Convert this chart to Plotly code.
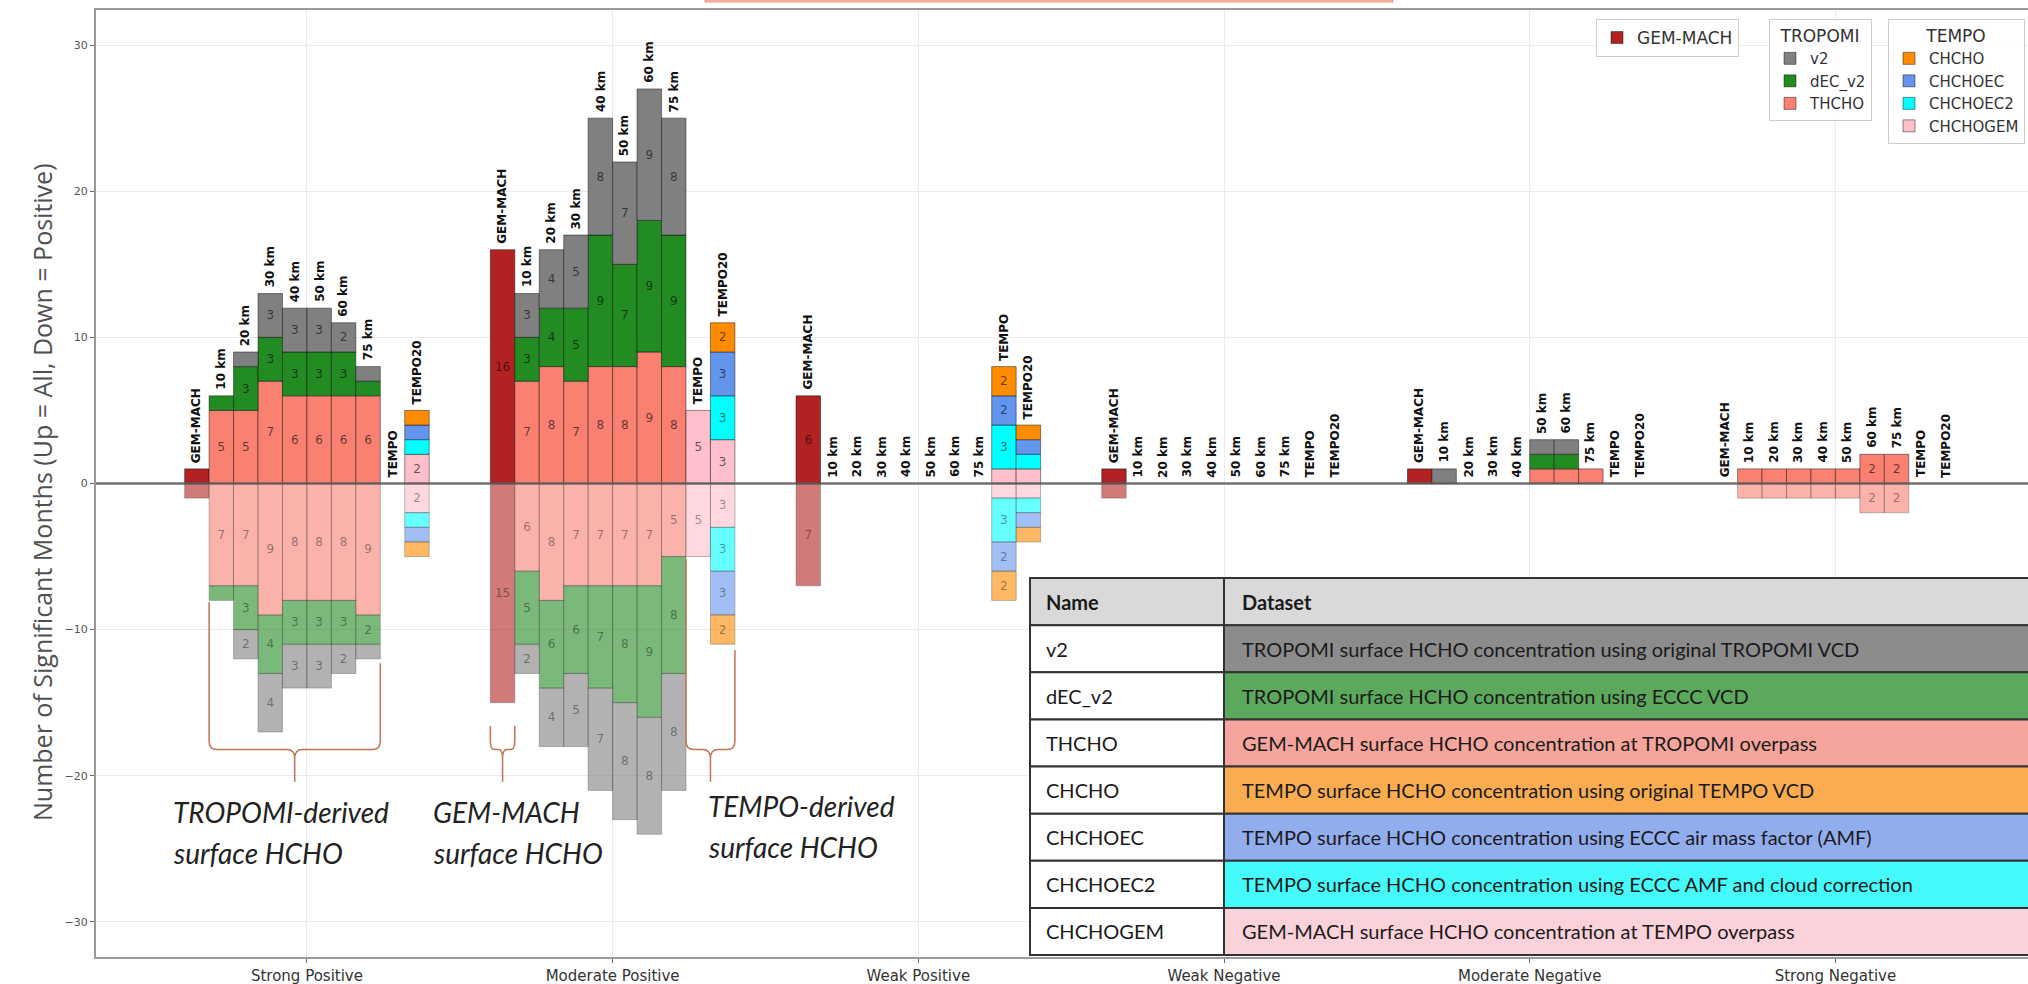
import plotly.graph_objects as go

# ---------------- data ----------------
categories = ["Strong Positive", "Moderate Positive", "Weak Positive",
              "Weak Negative", "Moderate Negative", "Strong Negative"]
bar_names = ["GEM-MACH", "10 km", "20 km", "30 km", "40 km", "50 km",
             "60 km", "75 km", "TEMPO", "TEMPO20"]

# GEM-MACH (one bar per category)
gem_up = [1, 16, 6, 1, 1, 0]
gem_down = [1, 15, 7, 1, 0, 0]

# TROPOMI-derived (10 km ... 75 km) per category
thcho_up = [[5, 5, 7, 6, 6, 6, 6], [7, 8, 7, 8, 8, 9, 8], [0] * 7, [0] * 7,
            [0, 0, 0, 0, 1, 1, 1], [1, 1, 1, 1, 1, 2, 2]]
dec_up = [[1, 3, 3, 3, 3, 3, 1], [3, 4, 5, 9, 7, 9, 9], [0] * 7, [0] * 7,
          [0, 0, 0, 0, 1, 1, 0], [0] * 7]
v2_up = [[0, 1, 3, 3, 3, 2, 1], [3, 4, 5, 8, 7, 9, 8], [0] * 7, [0] * 7,
         [1, 0, 0, 0, 1, 1, 0], [0] * 7]
thcho_down = [[7, 7, 9, 8, 8, 8, 9], [6, 8, 7, 7, 7, 7, 5], [0] * 7, [0] * 7,
              [0] * 7, [1, 1, 1, 1, 1, 2, 2]]
dec_down = [[1, 3, 4, 3, 3, 3, 2], [5, 6, 6, 7, 8, 9, 8], [0] * 7, [0] * 7,
            [0] * 7, [0] * 7]
v2_down = [[0, 2, 4, 3, 3, 2, 1], [2, 4, 5, 7, 8, 8, 8], [0] * 7, [0] * 7,
           [0] * 7, [0] * 7]

# TEMPO-derived (TEMPO, TEMPO20) per category
chchogem_up = [[0, 2], [5, 3], [1, 1], [0, 0], [0, 0], [0, 0]]
chchoec2_up = [[0, 1], [0, 3], [3, 1], [0, 0], [0, 0], [0, 0]]
chchoec_up = [[0, 1], [0, 3], [2, 1], [0, 0], [0, 0], [0, 0]]
chcho_up = [[0, 1], [0, 2], [2, 1], [0, 0], [0, 0], [0, 0]]
chchogem_down = [[0, 2], [5, 3], [1, 1], [0, 0], [0, 0], [0, 0]]
chchoec2_down = [[0, 1], [0, 3], [3, 1], [0, 0], [0, 0], [0, 0]]
chchoec_down = [[0, 1], [0, 3], [2, 1], [0, 0], [0, 0], [0, 0]]
chcho_down = [[0, 1], [0, 2], [2, 1], [0, 0], [0, 0], [0, 0]]

table_header = ["Name", "Dataset"]
table_names = ["v2", "dEC_v2", "THCHO", "CHCHO", "CHCHOEC", "CHCHOEC2", "CHCHOGEM"]
table_desc = [
    "TROPOMI surface HCHO concentration using original TROPOMI VCD",
    "TROPOMI surface HCHO concentration using ECCC VCD",
    "GEM-MACH surface HCHO concentration at TROPOMI overpass",
    "TEMPO surface HCHO concentration using original TEMPO VCD",
    "TEMPO surface HCHO concentration using ECCC air mass factor (AMF)",
    "TEMPO surface HCHO concentration using ECCC AMF and cloud correction",
    "GEM-MACH surface HCHO concentration at TEMPO overpass",
]
table_fill = ["#8c8c8c", "#5ca85c", "#f5a59b", "#f9ad50", "#92adee", "#45fafa", "#fbd1da"]

# ---------------- layout constants ----------------
W, H = 2028, 984
L, T, B = 96, 10, 957
PW, PH = W - L, B - T
BAR_W = 0.08


def px_x(p):
    return (p - L) / PW


def px_y(p):
    return 1 - (p - T) / PH


def bar_x(k, i):
    return k + (i - 4.5) * BAR_W


COL = {"GEM-MACH": "#b22222", "v2": "#808080", "dEC_v2": "#228b22", "THCHO": "#fa8072",
       "CHCHO": "#ff8c00", "CHCHOEC": "#6495ed", "CHCHOEC2": "#00ffff", "CHCHOGEM": "#ffc0cb"}

fig = go.Figure()


def add_series(name, idx, up, down, legend, rank):
    for sign, data in ((1, up), (-1, down)):
        xs, ys, txt = [], [], []
        for k in range(len(categories)):
            for j, i in enumerate(idx):
                v = data[k][j]
                xs.append(bar_x(k, i))
                ys.append(sign * v if v else None)
                txt.append(str(v) if v >= 2 else "")
        fig.add_trace(go.Bar(
            x=xs, y=ys, width=BAR_W, name=name,
            marker=dict(color=COL[name], opacity=1.0 if sign > 0 else 0.6,
                        line=dict(color="rgba(0,0,0,0.55)", width=0.8)),
            text=txt, textposition="inside", insidetextanchor="middle", textangle=0,
            textfont=dict(family="DejaVu Sans", size=12,
                          color="rgba(0,0,0,0.6)" if sign > 0 else "rgba(0,0,0,0.4)"),
            showlegend=(sign > 0), legend=legend, legendrank=rank,
            hoverinfo="skip"))


gem_up_l = [[v] for v in gem_up]
gem_down_l = [[v] for v in gem_down]
trop_idx = [1, 2, 3, 4, 5, 6, 7]
tempo_idx = [8, 9]

add_series("GEM-MACH", [0], gem_up_l, gem_down_l, "legend", 1)
add_series("THCHO", trop_idx, thcho_up, thcho_down, "legend2", 3)
add_series("dEC_v2", trop_idx, dec_up, dec_down, "legend2", 2)
add_series("v2", trop_idx, v2_up, v2_down, "legend2", 1)
add_series("CHCHOGEM", tempo_idx, chchogem_up, chchogem_down, "legend3", 4)
add_series("CHCHOEC2", tempo_idx, chchoec2_up, chchoec2_down, "legend3", 3)
add_series("CHCHOEC", tempo_idx, chchoec_up, chchoec_down, "legend3", 2)
add_series("CHCHO", tempo_idx, chcho_up, chcho_down, "legend3", 1)

annotations = []
shapes = []

# bar name labels above stacks
for k in range(len(categories)):
    for i, nm in enumerate(bar_names):
        if i == 0:
            top = gem_up[k]
        elif i <= 7:
            j = i - 1
            top = thcho_up[k][j] + dec_up[k][j] + v2_up[k][j]
        else:
            j = i - 8
            top = chchogem_up[k][j] + chchoec2_up[k][j] + chchoec_up[k][j] + chcho_up[k][j]
        annotations.append(dict(x=bar_x(k, i), y=top, xref="x", yref="y", text="<b>%s</b>" % nm,
                                textangle=-90, showarrow=False, xanchor="center", yanchor="bottom",
                                yshift=4, font=dict(family="DejaVu Sans", size=12, color="#111111")))

# y axis title
annotations.append(dict(x=px_x(42), y=px_y(492), xref="paper", yref="paper",
                        text="Number of Significant Months (Up = All, Down = Positive)",
                        textangle=-90, showarrow=False, xanchor="center", yanchor="middle",
                        font=dict(family="Open Sans", size=25, color="#505050")))

# brace captions
captions = [("TROPOMI-derived", "surface HCHO", -0.445, -22.5),
            ("GEM-MACH", "surface HCHO", 0.405, -22.5),
            ("TEMPO-derived", "surface HCHO", 1.305, -22.1)]
for l1, l2, cx, cy in captions:
    for n, line in enumerate((l1, l2)):
        annotations.append(dict(x=cx, y=cy - 2.8 * n, xref="x", yref="y", text="<i>%s</i>" % line,
                                showarrow=False, xanchor="left", yanchor="middle",
                                font=dict(family="Lato", size=28, color="#222222")))


def brace(x0, x1, yl, yr, yh=-18.2, ytip=-20.4):
    xm = (x0 + x1) / 2
    rx = min(0.025, (xm - x0) / 3)
    ry = 0.6
    p = ("M{x0},{yl} L{x0},{a} Q{x0},{yh} {b},{yh} L{c},{yh} Q{xm},{yh} {xm},{d} L{xm},{ytip} "
         "M{x1},{yr} L{x1},{a} Q{x1},{yh} {e},{yh} L{f},{yh} Q{xm},{yh} {xm},{d}").format(
        x0=x0, x1=x1, yl=yl, yr=yr, a=yh + ry, yh=yh, b=x0 + rx, c=xm - rx, xm=xm,
        d=yh - ry, ytip=ytip, e=x1 - rx, f=xm + rx)
    shapes.append(dict(type="path", path=p, xref="x", yref="y",
                       line=dict(color="#c27452", width=1.5), layer="above"))


def down_total_trop(k, j):
    return thcho_down[k][j] + dec_down[k][j] + v2_down[k][j]


def down_total_tempo(k, j):
    return chchogem_down[k][j] + chchoec2_down[k][j] + chchoec_down[k][j] + chcho_down[k][j]


brace(bar_x(0, 1) - BAR_W / 2, bar_x(0, 7) + BAR_W / 2,
      -down_total_trop(0, 0) - 0.1, -down_total_trop(0, 6) - 0.3)
brace(bar_x(1, 0) - BAR_W / 2, bar_x(1, 0) + BAR_W / 2, -gem_down[1] - 1.6, -gem_down[1] - 1.6)
brace(bar_x(1, 8) - BAR_W / 2, bar_x(1, 9) + BAR_W / 2,
      -down_total_tempo(1, 0) - 0.2, -down_total_tempo(1, 1) - 0.4)

# zero line above bars
shapes.append(dict(type="line", xref="paper", yref="y", x0=0, x1=1, y0=0, y1=0,
                   line=dict(color="rgba(90,90,90,0.85)", width=2.5), layer="above"))
# cropped title box edge at top
shapes.append(dict(type="rect", xref="paper", yref="paper", x0=px_x(705), x1=px_x(1393),
                   y0=px_y(2), y1=px_y(0), line=dict(color="#e8937a", width=1),
                   fillcolor="#f6cbbd"))

# ---- description table (drawn with shapes + text) ----
TB_L, TB_T, TB_B, TB_DIV, TB_R = 1030, 578, 955, 1224, 2070
rows = [(table_header[0], table_header[1], "#d9d9d9", "#d9d9d9", True)] + \
       [(n, d, "white", f, False) for n, d, f in zip(table_names, table_desc, table_fill)]
rh = (TB_B - TB_T) / len(rows)
for r, (nm, desc, f1, f2, bold) in enumerate(rows):
    y0, y1 = TB_T + r * rh, TB_T + (r + 1) * rh
    for xa, xb, fc in ((TB_L, TB_DIV, f1), (TB_DIV, TB_R, f2)):
        shapes.append(dict(type="rect", xref="paper", yref="paper", x0=px_x(xa), x1=px_x(xb),
                           y0=px_y(y1), y1=px_y(y0), fillcolor=fc,
                           line=dict(color="#333333", width=2), layer="above"))
    for xt, s in ((TB_L + 14, nm), (TB_DIV + 16, desc)):
        annotations.append(dict(x=px_x(xt), y=px_y((y0 + y1) / 2), xref="paper", yref="paper",
                                text=("<b>%s</b>" % s) if bold else s, showarrow=False,
                                xanchor="left", yanchor="middle",
                                font=dict(family="Lato", size=20, color="#1a1a1a")))

legend_common = dict(bgcolor="rgba(255,255,255,0.9)", bordercolor="#cccccc", borderwidth=1,
                     xanchor="left", yanchor="top", font=dict(family="DejaVu Sans", size=15, color="#333333"),
                     itemclick=False, itemdoubleclick=False)

fig.update_layout(
    width=W, height=H,
    margin=dict(l=L, r=0, t=T, b=H - B, autoexpand=False),
    paper_bgcolor="white", plot_bgcolor="white",
    barmode="relative",
    font=dict(family="DejaVu Sans", color="#333333"),
    xaxis=dict(range=[-0.69, 5.63], tickvals=list(range(len(categories))), ticktext=categories,
               showgrid=True, gridcolor="#ebebeb", gridwidth=1, zeroline=False,
               showline=True, linecolor="#9a9a9a", linewidth=2, mirror=True,
               ticks="outside", ticklen=4, tickcolor="#666666",
               tickfont=dict(family="DejaVu Sans", size=15, color="#333333")),
    yaxis=dict(range=[-32.4, 32.4], tickvals=[-30, -20, -10, 0, 10, 20, 30],
               showgrid=True, gridcolor="#ebebeb", gridwidth=1, zeroline=False,
               showline=True, linecolor="#9a9a9a", linewidth=2,
               ticks="outside", ticklen=4, tickcolor="#666666",
               tickfont=dict(family="DejaVu Sans", size=11, color="#555555")),
    legend=dict(x=px_x(1596), y=px_y(19), **legend_common),
    legend2=dict(x=px_x(1769), y=px_y(19), title=dict(text="TROPOMI", side="top center",
                 font=dict(family="DejaVu Sans", size=17, color="#333333")), **legend_common),
    legend3=dict(x=px_x(1888), y=px_y(19), title=dict(text="TEMPO", side="top center",
                 font=dict(family="DejaVu Sans", size=17, color="#333333")), **legend_common),
    annotations=annotations,
    shapes=shapes,
)
fig.update_layout(legend=dict(font=dict(size=17)))

fig.write_html("out.html", config={"displayModeBar": False},
               post_script="document.body.style.margin='0px';document.body.style.overflow='hidden';")
